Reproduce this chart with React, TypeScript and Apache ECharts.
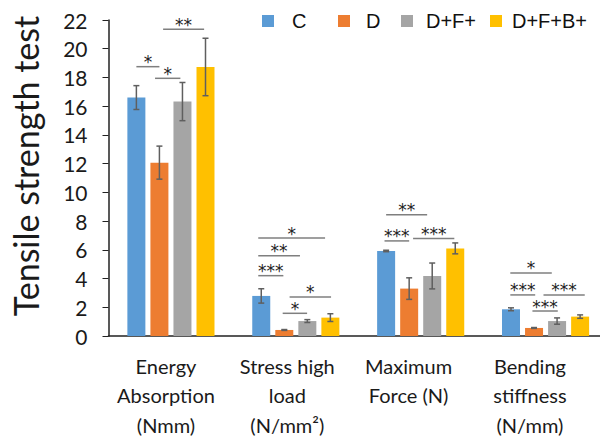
import React, { useEffect, useRef } from "react";
import * as echarts from "echarts";

const categories = [
  "Energy\nAbsorption\n(Nmm)",
  "Stress high\nload\n(N/mm²)",
  "Maximum\nForce (N)",
  "Bending\nstiffness\n(N/mm)",
];
const seriesNames = ["C", "D", "D+F+", "D+F+B+"];
const seriesColors = ["#5B9BD5", "#ED7D31", "#A5A5A5", "#FFC000"];

const cValues = [16.6, 2.79, 5.92, 1.86];
const cErrors = [0.83, 0.5, 0.05, 0.1];
const dValues = [12.07, 0.42, 3.3, 0.56];
const dErrors = [1.15, 0.03, 0.75, 0.03];
const dfValues = [16.32, 1.04, 4.18, 1.04];
const dfErrors = [1.33, 0.1, 0.9, 0.22];
const dfbValues = [18.73, 1.28, 6.1, 1.35];
const dfbErrors = [2.0, 0.27, 0.38, 0.12];

const yMin = 0;
const yMax = 22;
const yInterval = 2;

// significance brackets: [category index, from bar position, to bar position, y value, label]
const significance: [number, number, number, number, string][] = [
  [0, 0, 1, 18.75, "*"],
  [0, 0.81, 1.91, 17.94, "*"],
  [0, 1.16, 2.94, 21.36, "**"],
  [1, -0.13, 2.77, 6.82, "*"],
  [1, -0.13, 1.68, 5.59, "**"],
  [1, -0.13, 0.96, 4.2, "***"],
  [1, 1.23, 3.03, 2.72, "*"],
  [1, 0.93, 1.99, 1.58, "*"],
  [2, 0, 1.78, 8.45, "**"],
  [2, -0.07, 1.0, 6.62, "***"],
  [2, 1.17, 2.96, 6.78, "***"],
  [3, -0.03, 1.77, 4.39, "*"],
  [3, -0.03, 1.05, 2.86, "***"],
  [3, 1.41, 3.2, 2.86, "***"],
  [3, 0.93, 2.03, 1.74, "***"],
];

const BAR_WIDTH = 18;
const BAR_GAP_PCT = 28;
const LEGEND_LEFT = [262, 338, 401, 490];
const LEGEND_TEXT_PAD = [13, 11, 8, 5];

export default function App() {
  const ref = useRef<HTMLDivElement>(null);
  useEffect(() => {
    if (!ref.current) return;
    const chart = echarts.init(ref.current, null, { renderer: "svg" });
    const values = [cValues, dValues, dfValues, dfbValues];
    const errors = [cErrors, dErrors, dfErrors, dfbErrors];
    const step = BAR_WIDTH * (1 + BAR_GAP_PCT / 100);

    const errData: number[][] = [];
    values.forEach((vals, s) => {
      vals.forEach((v, c) => {
        errData.push([c, s, v - errors[s][c], v + errors[s][c]]);
      });
    });

    const barSeries = seriesNames.map((name, s) => ({
      name,
      type: "bar",
      xAxisIndex: 0,
      yAxisIndex: 0,
      data: values[s],
      barWidth: BAR_WIDTH,
      barGap: BAR_GAP_PCT + "%",
      itemStyle: { color: seriesColors[s] },
    }));

    const legends = seriesNames.map((name, i) => ({
      left: LEGEND_LEFT[i],
      top: 11,
      padding: 0,
      itemWidth: 12,
      itemHeight: 12,
      icon: "rect",
      data: [name],
      textStyle: {
        fontFamily: "Liberation Sans",
        fontSize: 20,
        color: "#111",
        padding: [0, 0, 0, LEGEND_TEXT_PAD[i]],
      },
    }));

    const axisFont = "Lato";
    const option: any = {
      animation: false,
      color: seriesColors,
      legend: legends,
      grid: [
        { left: 108.5, width: 512, top: 20, height: 316 },
        { left: 105.3, width: 485.3, top: 20, height: 316 },
      ],
      xAxis: [
        {
          type: "category",
          gridIndex: 0,
          data: categories,
          axisLine: { lineStyle: { color: "#222", width: 1.5 } },
          axisTick: { show: false },
          axisLabel: { show: false },
        },
        {
          type: "category",
          gridIndex: 1,
          data: categories,
          axisLine: { show: false },
          axisTick: { show: false },
          axisLabel: {
            margin: 15,
            fontFamily: axisFont,
            fontSize: 20,
            lineHeight: 29.5,
            color: "#1a1a1a",
            interval: 0,
            align: "center",
            verticalAlign: "top",
          },
        },
      ],
      yAxis: [
        {
          type: "value",
          gridIndex: 0,
          min: yMin,
          max: yMax,
          interval: yInterval,
          axisLine: { show: true, lineStyle: { color: "#222", width: 1.5 } },
          axisTick: { show: true, inside: false, length: 6, lineStyle: { color: "#222" } },
          splitLine: { show: false },
          axisLabel: { margin: 21, fontFamily: axisFont, fontSize: 21, color: "#1a1a1a" },
        },
        { type: "value", gridIndex: 1, min: yMin, max: yMax, show: false },
      ],
      graphic: [
        {
          type: "text",
          x: 25,
          y: 166,
          rotation: Math.PI / 2,
          style: {
            text: "Tensile strength test",
            font: "34px Lato",
            fill: "#1a1a1a",
            align: "center",
            verticalAlign: "middle",
          },
        },
      ],
      series: [
        ...barSeries,
        {
          type: "custom",
          xAxisIndex: 0,
          yAxisIndex: 0,
          data: errData,
          encode: { x: 0, y: [2, 3] },
          z: 5,
          renderItem: (params: any, api: any) => {
            const c = api.value(0);
            const s = api.value(1);
            const lo = api.coord([c, api.value(2)]);
            const hi = api.coord([c, api.value(3)]);
            const x = lo[0] + (s - 1.5) * step;
            const cap = 3;
            const st = { stroke: "#5f5f5f", lineWidth: 1.5 };
            return {
              type: "group",
              children: [
                { type: "line", shape: { x1: x, y1: lo[1], x2: x, y2: hi[1] }, style: st },
                { type: "line", shape: { x1: x - cap, y1: lo[1], x2: x + cap, y2: lo[1] }, style: st },
                { type: "line", shape: { x1: x - cap, y1: hi[1], x2: x + cap, y2: hi[1] }, style: st },
              ],
            };
          },
        },
        {
          type: "custom",
          xAxisIndex: 0,
          yAxisIndex: 0,
          data: significance.map((d) => [d[0], d[1], d[2], d[3]]),
          encode: { x: 0, y: 3 },
          z: 6,
          renderItem: (params: any, api: any) => {
            const c = api.value(0);
            const from = api.value(1);
            const to = api.value(2);
            const p = api.coord([c, api.value(3)]);
            const x1 = p[0] + (from - 1.5) * step;
            const x2 = p[0] + (to - 1.5) * step;
            const label = significance[params.dataIndex][4];
            return {
              type: "group",
              children: [
                {
                  type: "line",
                  shape: { x1, y1: p[1], x2, y2: p[1] },
                  style: { stroke: "#7f7f7f", lineWidth: 1.5 },
                },
                {
                  type: "text",
                  x: (x1 + x2) / 2,
                  y: p[1] + 4,
                  style: {
                    text: label,
                    font: "17px 'DejaVu Sans'",
                    fill: "#222",
                    align: "center",
                    verticalAlign: "bottom",
                  },
                },
              ],
            };
          },
        },
      ],
    };
    chart.setOption(option);
    return () => chart.dispose();
  }, []);
  return <div ref={ref} style={{ width: 608, height: 444, margin: -8 }} />;
}
